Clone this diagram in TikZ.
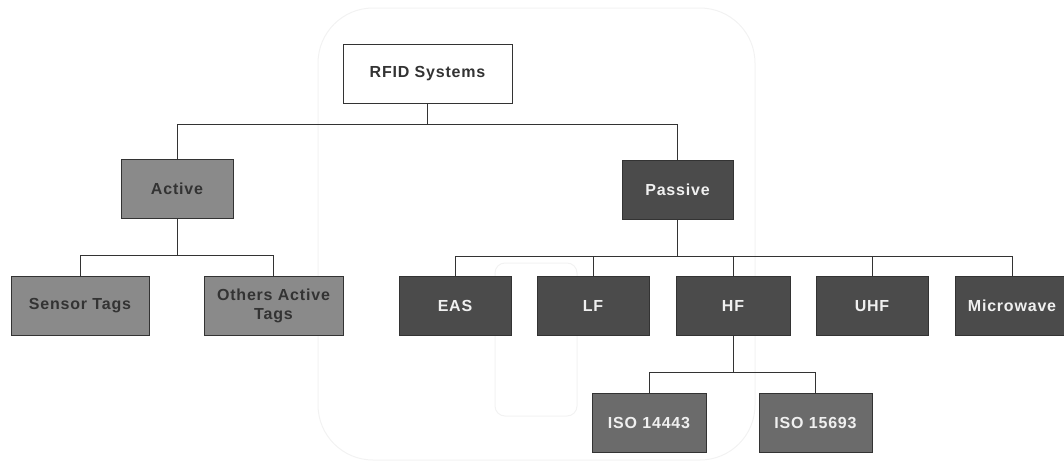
\documentclass[tikz,border=0pt]{standalone}
\usepackage{fontspec}
\setmainfont{Liberation Sans}
\newfontfamily\boxfont[LetterSpace=5]{Liberation Sans}
\definecolor{lightbox}{HTML}{8A8A8A}
\definecolor{darkbox}{HTML}{4B4B4B}
\definecolor{midbox}{HTML}{6B6B6B}
\definecolor{linecol}{HTML}{333333}
\definecolor{ghost}{HTML}{F2F2F2}
\tikzset{
  base/.style={rectangle, draw=linecol, line width=0.9pt, inner sep=0pt,
    minimum height=59pt, align=center,
    font=\boxfont\fontsize{16}{19}\selectfont\bfseries},
  rootbox/.style={base, fill=white, text=linecol, minimum width=169pt},
  activebox/.style={base, fill=lightbox, text=black!80, minimum width=112pt},
  passivebox/.style={base, fill=darkbox, text=white!94!black, minimum width=112pt},
  isobox/.style={base, fill=midbox, text=white!94!black, minimum width=113pt},
  conn/.style={draw=linecol, line width=0.9pt},
  ghostline/.style={draw=ghost, line width=1pt}
}
\begin{document}
\begin{tikzpicture}[x=1pt,y=-1pt]
\useasboundingbox (0,0) rectangle (1064,463);
\clip (0,0) rectangle (1064,463);
% faint scan ghosts
\draw[ghostline, rounded corners=55pt] (318,8) rectangle (755,460);
\draw[ghostline, rounded corners=10pt] (495,263) rectangle (577,416);

\node[rootbox] (rfid) at (427.5,73.5) {RFID Systems};
\node[activebox] (active) at (177,188.5) {Active};
\node[passivebox, minimum width=111pt] (passive) at (677.5,189.5) {Passive};
\node[activebox, minimum width=138pt] (sensor) at (80,305.5) {Sensor Tags};
\node[activebox, minimum width=139pt] (others) at (273.5,305.5) {Others Active\\Tags};
\node[passivebox] (eas) at (455,306) {EAS};
\node[passivebox] (lf) at (593,306) {LF};
\node[passivebox, minimum width=114pt] (hf) at (733,306) {HF};
\node[passivebox] (uhf) at (872,306) {UHF};
\node[passivebox, minimum width=114pt] (micro) at (1012,306) {Microwave};
\node[isobox, minimum width=114pt] (isoa) at (649,422.5) {ISO 14443};
\node[isobox] (isob) at (815.5,422.5) {ISO 15693};

\coordinate (j0) at (427.5,124);
\coordinate (j1) at (177,255);
\coordinate (j2) at (677.5,256);
\coordinate (j3) at (733,372);

\draw[conn] (rfid.south) -- (j0);
\draw[conn] (j0) -| (active.north);
\draw[conn] (j0) -| (passive.north);

\draw[conn] (active.south) -- (j1);
\draw[conn] (j1) -| (sensor.north);
\draw[conn] (j1) -| (others.north);

\draw[conn] (passive.south) -- (j2);
\draw[conn] (j2) -| (eas.north);
\draw[conn] (j2) -| (lf.north);
\draw[conn] (j2) -| (hf.north);
\draw[conn] (j2) -| (uhf.north);
\draw[conn] (j2) -| (micro.north);

\draw[conn] (hf.south) -- (j3);
\draw[conn] (j3) -| (isoa.north);
\draw[conn] (j3) -| (isob.north);
\end{tikzpicture}
\end{document}
